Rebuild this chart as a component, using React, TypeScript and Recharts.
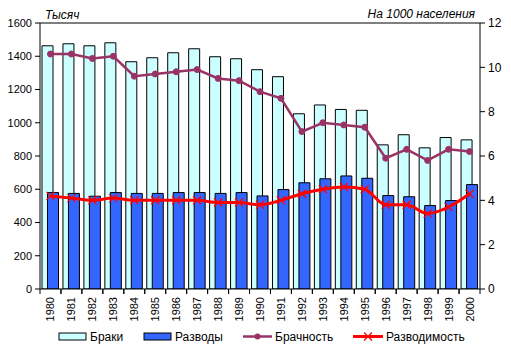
import React from 'react';
import { ComposedChart, Bar, Line, XAxis, YAxis, Legend, ReferenceLine } from 'recharts';

const years = ['1980', '1981', '1982', '1983', '1984', '1985', '1986', '1987', '1988', '1989', '1990',
  '1991', '1992', '1993', '1994', '1995', '1996', '1997', '1998', '1999', '2000'];
// thousands
const marriages = [1463, 1475, 1463, 1481, 1367, 1391, 1421, 1445, 1397, 1385, 1319,
  1277, 1054, 1107, 1080, 1075, 867, 928, 849, 911, 897];
const divorces = [580, 575, 558, 580, 575, 575, 580, 580, 575, 580, 560,
  598, 639, 663, 680, 666, 562, 555, 502, 532, 628];
// per 1000 population
const marriageRate = [10.6, 10.6, 10.4, 10.5, 9.6, 9.7, 9.8, 9.9, 9.5, 9.4, 8.9,
  8.6, 7.1, 7.5, 7.4, 7.3, 5.9, 6.3, 5.8, 6.3, 6.2];
const divorceRate = [4.2, 4.1, 4.0, 4.1, 4.0, 4.0, 4.0, 4.0, 3.9, 3.9, 3.8,
  4.0, 4.3, 4.5, 4.6, 4.5, 3.8, 3.8, 3.4, 3.7, 4.3];

const leftTicks = [0, 200, 400, 600, 800, 1000, 1200, 1400, 1600];
const rightTicks = [0, 2, 4, 6, 8, 10, 12];

const data = years.map((year, i) => ({
  year,
  marriages: marriages[i],
  divorces: divorces[i],
  marriageRate: marriageRate[i],
  divorceRate: divorceRate[i],
}));

const FONT = '"Liberation Sans", Arial, sans-serif';
const W = 511;
const H = 353;
const PLOT_W = 511 - 40 - 31;
const HALF_BAND = PLOT_W / years.length / 2;

const PURPLE = '#993366';
const RED = '#FF0000';

const YearTick = (props: any) => {
  const { x, y, payload } = props;
  const axisY = y - 7;
  return (
    <g>
      <line x1={x - HALF_BAND} x2={x - HALF_BAND} y1={axisY} y2={axisY + 5} stroke="#000" />
      <line x1={x + HALF_BAND} x2={x + HALF_BAND} y1={axisY} y2={axisY + 5} stroke="#000" />
      <text
        x={0}
        y={0}
        transform={`translate(${x + 4},${y + 1}) rotate(-90)`}
        textAnchor="end"
        fontSize={11}
        fontFamily={FONT}
        fill="#000"
      >
        {payload.value}
      </text>
    </g>
  );
};

const Cross = (props: any) => {
  const { cx, cy } = props;
  if (cx == null || cy == null) return null;
  return (
    <g>
      <line x1={cx - 4} y1={cy - 4} x2={cx + 4} y2={cy + 4} stroke={RED} strokeWidth={1.3} />
      <line x1={cx - 4} y1={cy + 4} x2={cx + 4} y2={cy - 4} stroke={RED} strokeWidth={1.3} />
    </g>
  );
};

const legendText = { fontSize: 12, fontFamily: FONT, fill: '#000' };

const LegendBox = () => (
  <svg width={W} height={28} style={{ display: 'block' }}>
    <rect x={59} y={8} width={27} height={7} fill="#CCFFFF" stroke="#000" />
    <text x={90} y={16} {...legendText}>Браки</text>
    <rect x={144} y={8} width={27} height={7} fill="#3366FF" stroke="#000" />
    <text x={175} y={16} {...legendText}>Разводы</text>
    <line x1={243} x2={272} y1={11.5} y2={11.5} stroke={PURPLE} strokeWidth={2.5} />
    <circle cx={257.5} cy={11.5} r={3} fill={PURPLE} />
    <text x={275} y={16} {...legendText}>Брачность</text>
    <line x1={353} x2={383} y1={11.5} y2={11.5} stroke={RED} strokeWidth={3} />
    <Cross cx={368} cy={11.5} />
    <text x={386} y={16} {...legendText}>Разводимость</text>
  </svg>
);

const axisTick = { fontSize: 11, fontFamily: FONT, fill: '#000' };

export default function App() {
  return (
    <div style={{ position: 'absolute', left: 0, top: 0, width: W, height: H, background: '#fff' }}>
      <ComposedChart
        width={W}
        height={H}
        data={data}
        margin={{ top: 23, right: 0, bottom: 0, left: 0 }}
        barSize={11}
        barGap={-5.5}
      >
        <XAxis
          dataKey="year"
          interval={0}
          tickLine={false}
          tickSize={5}
          tickMargin={2}
          height={36}
          axisLine={{ stroke: '#000' }}
          tick={<YearTick />}
        />
        <YAxis
          yAxisId="left"
          width={40}
          domain={[0, 1600]}
          ticks={leftTicks}
          tickSize={5}
          tickMargin={3}
          axisLine={{ stroke: '#000' }}
          tickLine={{ stroke: '#000' }}
          tick={axisTick}
          allowDataOverflow
          label={{
            content: (p: any) => (
              <text x={p.viewBox.x + p.viewBox.width + 5} y={p.viewBox.y - 4}
                fontSize={12} fontStyle="italic" fontFamily={FONT} fill="#000">Тысяч</text>
            ),
          }}
        />
        <YAxis
          yAxisId="right"
          orientation="right"
          width={31}
          domain={[0, 12]}
          ticks={rightTicks}
          tickSize={5}
          tickMargin={3}
          axisLine={{ stroke: '#000' }}
          tickLine={{ stroke: '#000' }}
          tick={{ ...axisTick, fontSize: 12 }}
          label={{
            content: (p: any) => (
              <text x={p.viewBox.x - 5} y={p.viewBox.y - 5} textAnchor="end"
                fontSize={12} fontStyle="italic" fontFamily={FONT} fill="#000">На 1000 населения</text>
            ),
          }}
        />
        <ReferenceLine yAxisId="left" y={1600} stroke="#000" />
        <Legend verticalAlign="bottom" height={28} content={<LegendBox />} />
        <Bar yAxisId="left" dataKey="marriages" name="Браки" fill="#CCFFFF" stroke="#000" strokeWidth={1} isAnimationActive={false} />
        <Bar yAxisId="left" dataKey="divorces" name="Разводы" fill="#3366FF" stroke="#000" strokeWidth={1} isAnimationActive={false} />
        <Line yAxisId="right" type="linear" dataKey="marriageRate" name="Брачность" stroke={PURPLE} strokeWidth={2.5}
          dot={{ r: 3, fill: PURPLE, stroke: PURPLE, strokeWidth: 1 }} isAnimationActive={false} />
        <Line yAxisId="right" type="monotone" dataKey="divorceRate" name="Разводимость" stroke={RED} strokeWidth={3}
          dot={<Cross />} isAnimationActive={false} />
      </ComposedChart>
    </div>
  );
}
